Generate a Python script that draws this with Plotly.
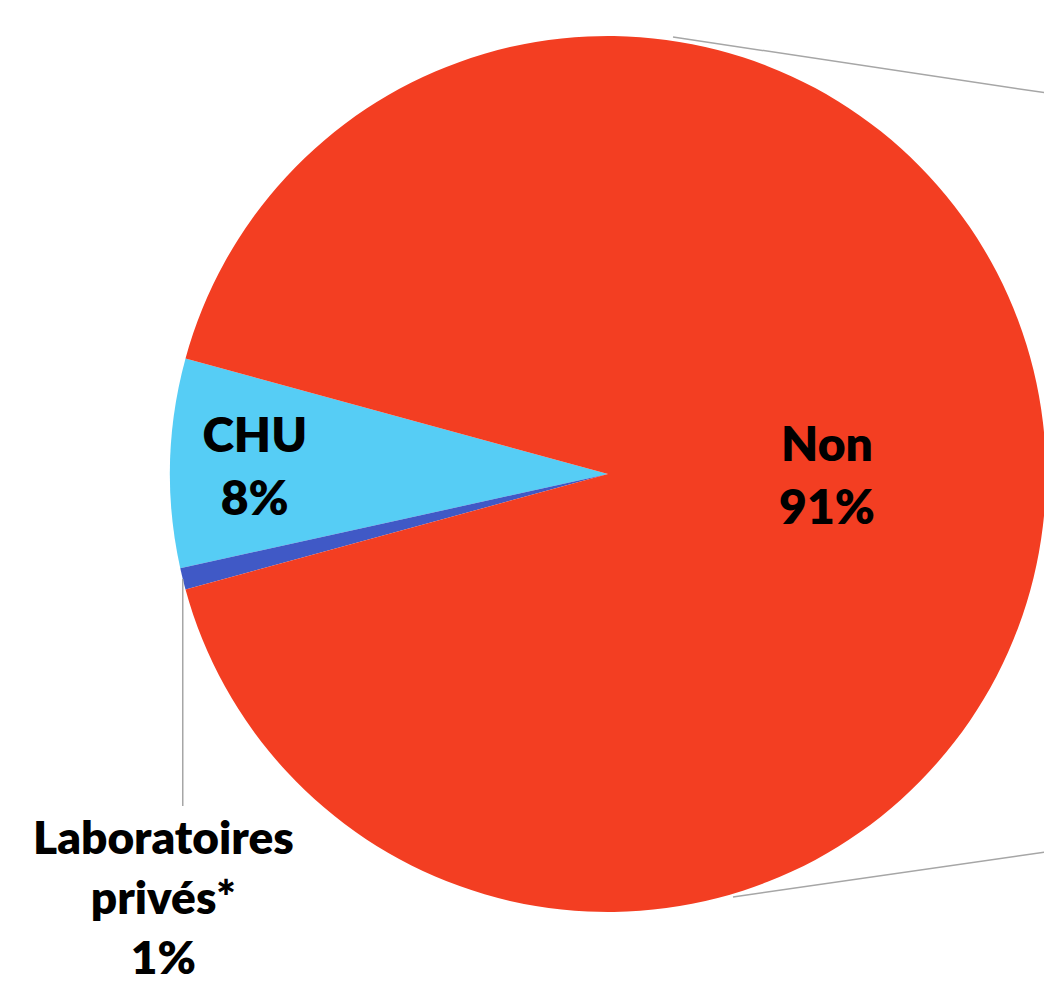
import math
import plotly.graph_objects as go

# slices, counterclockwise from the CHU upper edge
labels = ["CHU", "Laboratoires privés*", "Non"]
shares = [7.7, 0.8, 91.5]
pct_labels = ["8%", "1%", "91%"]
colors = ["#56CDF5", "#4059C6", "#F33E22"]

W, H = 1052, 992
OFF = 8  # page body margin
cx, cy, r = 608, 474, 438
start_deg = 164.7  # math angle of CHU upper edge
total = sum(shares)


def px(x):
    return (x - OFF) / W


def py(y):
    return 1 - (y - OFF) / H


text = ["%s<br>%s" % (l, p) for l, p in zip(labels, pct_labels)]

pie = go.Pie(
    labels=labels,
    values=shares,
    sort=False,
    direction="counterclockwise",
    rotation=-(start_deg + 360 * shares[0] / total - 90),
    marker={"colors": colors, "line": {"width": 0}},
    text=text,
    textinfo="text",
    textposition=["inside", "none", "inside"],
    insidetextorientation="horizontal",
    insidetextfont={"family": "Lato", "size": 48, "color": "black",
                    "weight": 800},
    hoverinfo="label+percent",
    domain={
        "x": [px(cx - r), px(cx + r)],
        "y": [py(cy + r), py(cy - r)],
    },
)

# edge point of the small slice, where the leader line starts
mid = start_deg + 360 * (shares[0] + shares[1] / 2) / total
ex = cx + r * math.cos(math.radians(mid))
ey = cy - r * math.sin(math.radians(mid))

grey = {"color": "#A6A6A6", "width": 1.5}
shapes = [
    # leader line for the small slice
    {"type": "line", "xref": "paper", "yref": "paper",
     "x0": px(ex), "y0": py(ey), "x1": px(ex), "y1": py(806), "line": grey},
    # connector lines toward the second chart
    {"type": "line", "xref": "paper", "yref": "paper",
     "x0": px(673), "y0": py(37), "x1": px(1060), "y1": py(95), "line": grey},
    {"type": "line", "xref": "paper", "yref": "paper",
     "x0": px(733), "y0": py(897), "x1": px(1060), "y1": py(850), "line": grey},
]

annotations = [
    {"xref": "paper", "yref": "paper", "x": px(163), "y": py(807),
     "xanchor": "center", "yanchor": "top", "showarrow": False,
     "text": "Laboratoires<br>privés*<br>%s" % pct_labels[1],
     "font": {"family": "Lato", "size": 46, "color": "black",
              "weight": 800}},
]

fig = go.Figure(
    data=[pie],
    layout={
        "width": W,
        "height": H,
        "margin": {"l": 0, "r": 0, "t": 0, "b": 0},
        "showlegend": False,
        "paper_bgcolor": "white",
        "plot_bgcolor": "white",
        "shapes": shapes,
        "annotations": annotations,
    },
)

fig.write_html("out.html")
